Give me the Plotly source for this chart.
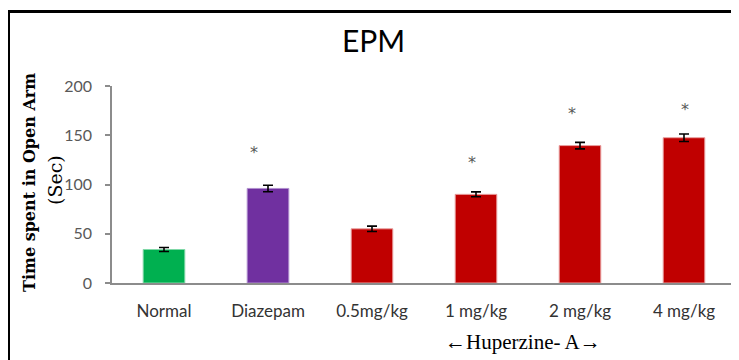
import plotly.graph_objects as go

categories = ["Normal", "Diazepam", "0.5mg/kg", "1 mg/kg", "2 mg/kg", "4 mg/kg"]
means = [34, 96, 55, 90, 139.5, 147.5]
sems = [2, 3.3, 2.7, 2.5, 3.3, 3.8]
bar_colors = ["#00B050", "#7030A0", "#C00000", "#C00000", "#C00000", "#C00000"]
edge_colors = ["#7FD8A7", "#B08FCF", "#E9A0A0", "#E9A0A0", "#E9A0A0", "#E9A0A0"]
sig_categories = ["Diazepam", "1 mg/kg", "2 mg/kg", "4 mg/kg"]
sig_y = [133, 122, 172, 176.5]
sig_shift = [-14, -4, -8, 1]
y_ticks = [0, 50, 100, 150, 200]

# page body has an 8px margin; work in window pixels and convert
OFF = 8
L, R, T, B = 112, 736, 86, 283   # plot area in window pixels
W, H = 739 - OFF, 360 - OFF       # figure size


def px(x):
    return (x - L) / (R - L)


def py(y):
    return (B - y) / (B - T)


fig = go.Figure()
fig.add_trace(go.Bar(
    x=categories, y=means, width=0.4,
    marker=dict(color=bar_colors, line=dict(color=edge_colors, width=1)),
    error_y=dict(type="data", array=sems, visible=True, color="black",
                 thickness=1.6, width=5),
    showlegend=False,
))

for c, yv, s in zip(sig_categories, sig_y, sig_shift):
    fig.add_annotation(x=c, y=yv, text="*", showarrow=False, xshift=s,
                       font=dict(family="DejaVu Sans", size=16, color="#595959"),
                       xanchor="center", yanchor="middle")

# title
fig.add_annotation(xref="paper", yref="paper", x=px(373.5), y=py(40), text="EPM",
                   showarrow=False, xanchor="center", yanchor="middle",
                   font=dict(family="Lato", size=30, color="black"))

# y-axis title (two lines)
fig.add_annotation(xref="paper", yref="paper", x=px(29), y=py(183),
                   text="<b>Time spent in Open Arm</b>", textangle=-90,
                   showarrow=False, xanchor="center", yanchor="middle",
                   font=dict(family="DejaVu Serif", size=16, color="black"))
fig.add_annotation(xref="paper", yref="paper", x=px(55), y=py(180),
                   text="(Sec)", textangle=-90,
                   showarrow=False, xanchor="center", yanchor="middle",
                   font=dict(family="DejaVu Serif", size=19, color="black"))

# group label
fig.add_annotation(xref="paper", yref="paper", x=px(523), y=py(342),
                   text="\u2190Huperzine- A\u2192", showarrow=False,
                   xanchor="center", yanchor="middle",
                   font=dict(family="Liberation Serif", size=21, color="black"))

# frame (left and top border of the original figure box)
fig.add_shape(type="line", xref="paper", yref="paper",
              x0=px(8.5), x1=px(8.5), y0=py(10.5), y1=py(365),
              line=dict(color="black", width=3))
fig.add_shape(type="line", xref="paper", yref="paper",
              x0=px(7), x1=px(745), y0=py(11.5), y1=py(11.5),
              line=dict(color="black", width=3))

fig.update_layout(
    width=W, height=H,
    margin=dict(l=L - OFF, r=739 - R, t=T - OFF, b=360 - B),
    paper_bgcolor="white", plot_bgcolor="white",
    xaxis=dict(showline=True, linecolor="#8C8C8C", linewidth=1.5,
               ticks="", showgrid=False, zeroline=False,
               tickfont=dict(family="Lato", size=17, color="#333333"),
               ticklabelstandoff=12),
    yaxis=dict(range=[0, 200], tickvals=y_ticks, showline=True,
               linecolor="#8C8C8C", linewidth=1.5, ticks="outside",
               ticklen=5, tickcolor="#8C8C8C", tickwidth=1.5,
               showgrid=False, zeroline=False,
               tickfont=dict(family="Lato", size=16, color="#595959"),
               ticklabelstandoff=10),
)

fig.write_html("out.html")
